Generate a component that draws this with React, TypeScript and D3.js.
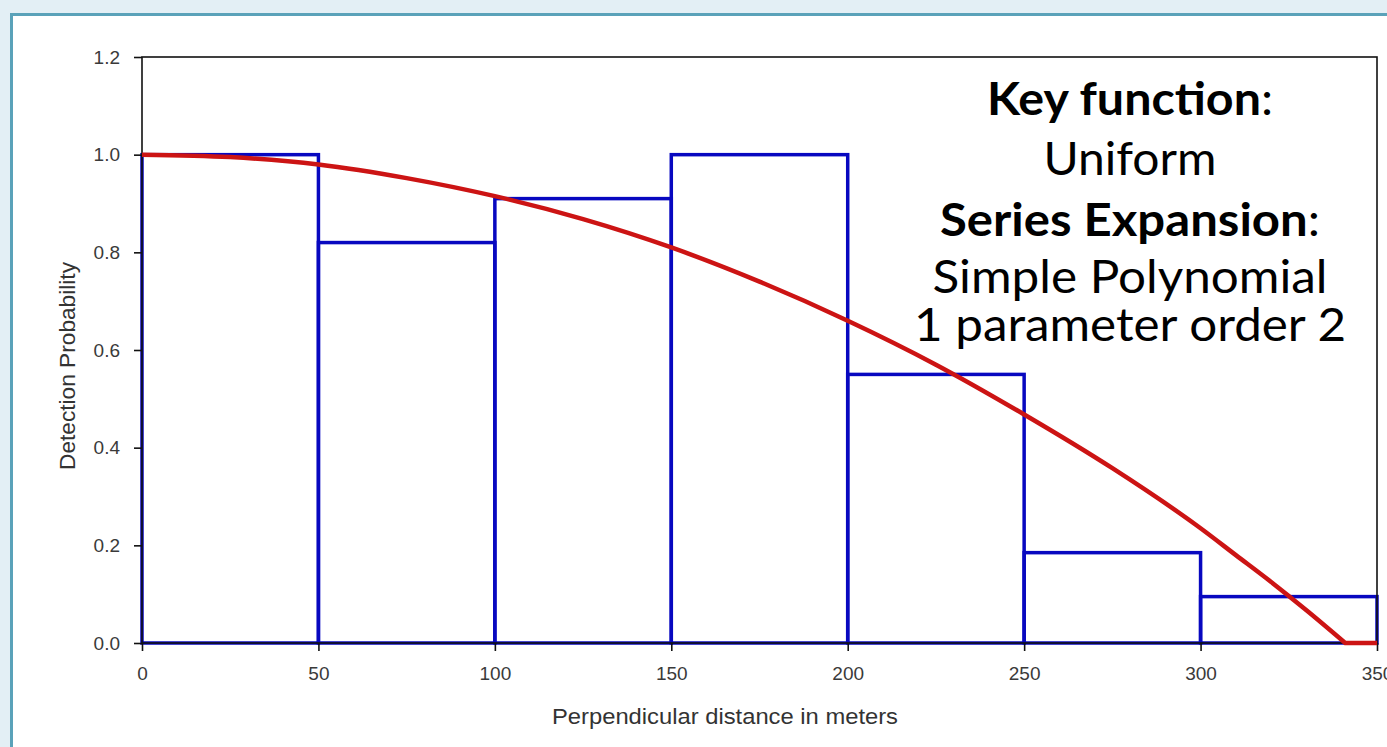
import { useEffect, useRef } from 'react';
import * as d3 from 'd3';

// histogram bins (perpendicular distance, m) and scaled detection frequencies
const binStarts = [0, 50, 100, 150, 200, 250, 300];
const binWidth = 50;
const binHeights = [1.0, 0.82, 0.91, 1.0, 0.55, 0.185, 0.095];

// fitted detection function
const curveX = [0, 25, 50, 75, 100, 125, 150, 175, 200, 225, 250, 275, 300, 310, 320, 330, 341, 350];
const curveY = [1.0, 0.995, 0.98, 0.952, 0.915, 0.868, 0.81, 0.74, 0.66, 0.57, 0.468, 0.358, 0.235, 0.18, 0.125, 0.067, 0.0, 0.0];

const xTicks = [0, 50, 100, 150, 200, 250, 300, 350];
const yTicks = [0.0, 0.2, 0.4, 0.6, 0.8, 1.0, 1.2];

const noteBold = ['Key function', '', 'Series Expansion', '', ''];
const noteRest = [':', 'Uniform', ':', 'Simple Polynomial', '1 parameter order 2'];

const App = () => {
  const chartRef = useRef<SVGSVGElement>(null);

  useEffect(() => {
    const W = 1387, H = 747;
    const svg = d3.select(chartRef.current).attr('width', W).attr('height', H);
    svg.selectAll('*').remove();

    // page background + white panel
    svg.append('rect').attr('width', W).attr('height', H).attr('fill', '#e3eff5');
    svg.append('rect')
      .attr('x', 11.5).attr('y', 14.5).attr('width', W + 20).attr('height', H + 20)
      .attr('fill', '#fff').attr('stroke', '#5aa2b9').attr('stroke-width', 3);

    const x = d3.scaleLinear().domain([0, 350]).range([142, 1377]);
    const y = d3.scaleLinear().domain([0, 1.2]).range([643, 57]);

    const font = 'Liberation Sans, Arial, sans-serif';

    // histogram bars
    svg.append('g')
      .selectAll('rect')
      .data(binStarts)
      .enter()
      .append('rect')
      .attr('x', (d) => x(d))
      .attr('y', (d, i) => y(binHeights[i]))
      .attr('width', x(binWidth) - x(0))
      .attr('height', (d, i) => y(0) - y(binHeights[i]))
      .attr('fill', 'none')
      .attr('stroke', '#0808c0')
      .attr('stroke-width', 3.5);

    // frame
    svg.append('rect')
      .attr('x', x(0)).attr('y', y(1.2))
      .attr('width', x(350) - x(0)).attr('height', y(0) - y(1.2))
      .attr('fill', 'none').attr('stroke', '#111').attr('stroke-width', 1.6);

    // y axis
    const yAxis = svg.append('g')
      .attr('transform', `translate(${x(0)},0)`)
      .call(d3.axisLeft(y).tickValues(yTicks).tickFormat(d3.format('.1f')).tickSize(8).tickPadding(14));
    yAxis.select('.domain').remove();
    yAxis.attr('font-size', null).attr('font-family', null);
    yAxis.selectAll('line').attr('stroke', '#111').attr('stroke-width', 1.6);
    yAxis.selectAll('text').style('font-family', font).style('font-size', '19px').attr('fill', '#3a3a3a');

    // x axis
    const xAxis = svg.append('g')
      .attr('transform', `translate(0,${y(0)})`)
      .call(d3.axisBottom(x).tickValues(xTicks).tickFormat(d3.format('d')).tickSize(8).tickPadding(16));
    xAxis.select('.domain').remove();
    xAxis.attr('font-size', null).attr('font-family', null);
    xAxis.selectAll('line').attr('stroke', '#111').attr('stroke-width', 1.6);
    xAxis.selectAll('text').style('font-family', font).style('font-size', '19px').attr('fill', '#3a3a3a');

    // axis titles
    svg.append('text')
      .attr('x', 725).attr('y', 724).attr('text-anchor', 'middle')
      .attr('textLength', 346).attr('lengthAdjust', 'spacingAndGlyphs')
      .style('font-family', font).style('font-size', '22px').attr('fill', '#333')
      .text('Perpendicular distance in meters');
    svg.append('text')
      .attr('transform', `translate(75,366) rotate(-90)`)
      .attr('text-anchor', 'middle')
      .attr('textLength', 208).attr('lengthAdjust', 'spacingAndGlyphs')
      .style('font-family', font).style('font-size', '22px').attr('fill', '#333')
      .text('Detection Probability');

    // fitted curve: smooth part down to zero, then flat along the axis
    const zeroAt = curveY.indexOf(0);
    const line = d3.line<number>()
      .x((i) => x(curveX[i]))
      .y((i) => y(curveY[i]));
    const smoothIdx = d3.range(0, zeroAt + 1);
    const flatIdx = d3.range(zeroAt, curveX.length);
    svg.append('path')
      .attr('d', line.curve(d3.curveMonotoneX)(smoothIdx) + (line.curve(d3.curveLinear)(flatIdx) || '').replace(/^M/, 'L'))
      .attr('fill', 'none')
      .attr('stroke', '#cc1414')
      .attr('stroke-width', 4.5)
      .attr('stroke-linejoin', 'round');

    // annotation
    const baselines = [115, 175, 236, 293, 341];
    const widths = [286, 173, 380, 395, 432];
    const note = svg.append('g')
      .style('font-family', 'Lato, "Open Sans", sans-serif')
      .style('font-size', '46px')
      .attr('fill', '#000')
      .attr('text-anchor', 'middle');
    noteRest.forEach((rest, i) => {
      const t = note.append('text')
        .attr('x', 1130).attr('y', baselines[i])
        .attr('textLength', widths[i]).attr('lengthAdjust', 'spacingAndGlyphs');
      if (noteBold[i]) t.append('tspan').attr('font-weight', 'bold').text(noteBold[i]);
      t.append('tspan').text(rest);
    });

    return () => { d3.select(chartRef.current).selectAll('*').remove(); };
  }, []);

  return (
    <div style={{ position: 'absolute', left: 0, top: 0 }}>
      <svg ref={chartRef} style={{ display: 'block' }}></svg>
    </div>
  );
};

export default App;
